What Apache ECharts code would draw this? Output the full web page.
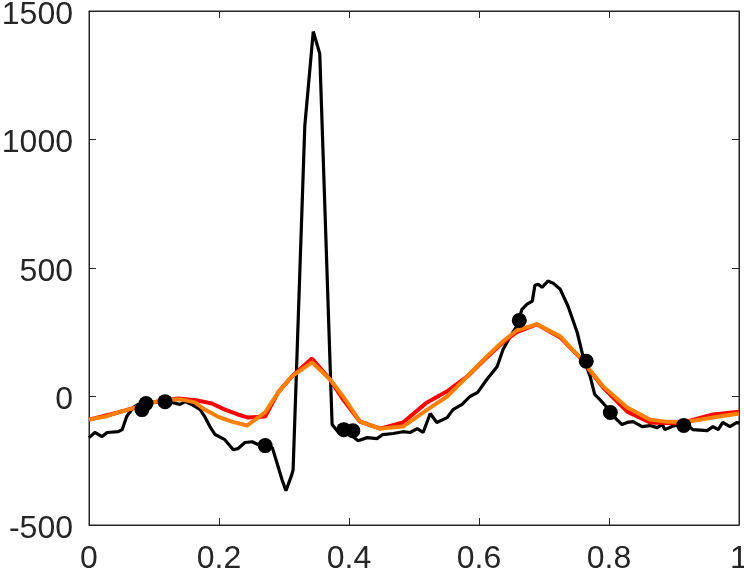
<!DOCTYPE html>
<html>
<head>
<meta charset="utf-8">
<script src="https://cdn.jsdelivr.net/npm/echarts@6/dist/echarts.min.js"></script>
<style>
html, body { margin: 0; padding: 0; background: #fff; }
#chart { width: 744px; height: 573px; }
</style>
</head>
<body>
<div id="chart"></div>
<script>
// raw signal
var ecgX = [0, 0.009, 0.020, 0.028, 0.045, 0.051, 0.058, 0.068, 0.075, 0.088, 0.097, 0.106, 0.117, 0.128, 0.140, 0.148, 0.158, 0.171, 0.178, 0.186, 0.194, 0.209, 0.222, 0.229, 0.240, 0.251, 0.260, 0.268, 0.282, 0.289, 0.297, 0.303, 0.312, 0.314, 0.332, 0.345, 0.355, 0.374, 0.383, 0.392, 0.406, 0.414, 0.428, 0.443, 0.452, 0.468, 0.483, 0.494, 0.505, 0.514, 0.525, 0.535, 0.551, 0.560, 0.574, 0.586, 0.598, 0.612, 0.628, 0.637, 0.648, 0.658, 0.666, 0.674, 0.682, 0.686, 0.691, 0.697, 0.706, 0.714, 0.725, 0.737, 0.751, 0.760, 0.771, 0.778, 0.786, 0.797, 0.805, 0.812, 0.820, 0.828, 0.837, 0.851, 0.863, 0.874, 0.882, 0.886, 0.897, 0.909, 0.920, 0.929, 0.951, 0.960, 0.968, 0.975, 0.986, 0.997, 1.0];
var ecgY = [-160, -140, -156, -140, -137, -129, -78, -43, -31, -23, -23, -23, -20, -23, -31, -20, -31, -51, -78, -117, -148, -168, -207, -203, -179, -176, -187, -187, -199, -257, -324, -367, -304, -285, 1053, 1420, 1334, -109, -137, -137, -156, -172, -160, -164, -148, -144, -137, -140, -125, -140, -66, -101, -82, -51, -31, 0, 16, 66, 117, 183, 234, 273, 339, 359, 371, 433, 437, 425, 449, 441, 417, 351, 250, 156, 78, 8, -12, -43, -70, -90, -109, -101, -98, -117, -113, -121, -109, -129, -117, -109, -109, -129, -133, -117, -129, -101, -117, -101, -105];

// fitted curves
var redX = [0, 0.045, 0.071, 0.097, 0.137, 0.168, 0.189, 0.209, 0.229, 0.245, 0.271, 0.291, 0.312, 0.343, 0.371, 0.391, 0.417, 0.448, 0.483, 0.520, 0.551, 0.582, 0.612, 0.637, 0.658, 0.689, 0.725, 0.755, 0.791, 0.828, 0.863, 0.909, 0.960, 1.0];
var redY = [-90, -62, -43, -23, -8, -16, -27, -51, -70, -82, -78, 16, 78, 148, 66, -12, -98, -125, -101, -23, 20, 78, 152, 211, 250, 281, 230, 152, 35, -59, -101, -105, -70, -59];

var orangeX = [0, 0.025, 0.045, 0.071, 0.097, 0.122, 0.143, 0.163, 0.178, 0.198, 0.220, 0.243, 0.271, 0.291, 0.312, 0.343, 0.371, 0.391, 0.417, 0.448, 0.483, 0.525, 0.551, 0.582, 0.612, 0.637, 0.658, 0.689, 0.725, 0.755, 0.791, 0.828, 0.863, 0.889, 0.920, 0.960, 1.0];
var orangeY = [-90, -78, -62, -43, -23, -12, -12, -23, -51, -78, -98, -113, -62, 16, 78, 133, 66, 0, -98, -125, -117, -43, 0, 78, 156, 215, 257, 281, 234, 152, 39, -43, -90, -98, -98, -82, -66];

// marked points
var dotX = [0.0815, 0.0877, 0.117, 0.271, 0.392, 0.406, 0.662, 0.765, 0.802, 0.915];
var dotY = [-51, -27, -20, -191, -129, -133, 296, 137, -62, -113];

var xTicks = [0, 0.2, 0.4, 0.6, 0.8, 1];
var yTicks = [-500, 0, 500, 1000, 1500];

var zip = function(xs, ys) {
	return xs.map(function(x, i) { return [x, ys[i]]; });
};

var axisColor = '#262626';
var labelFont = {
	color: axisColor,
	fontFamily: 'Liberation Sans, Arial, sans-serif',
	fontSize: 32
};

var tickStyle = { show: true, inside: true, length: 7, lineStyle: { color: axisColor } };
var lineStyle = { show: true, onZero: false, lineStyle: { color: axisColor } };

var chart = echarts.init(document.getElementById('chart'), null, { renderer: 'canvas' });
chart.setOption({
	animation: false,
	grid: {
		left: 89,
		right: 5,
		top: 11,
		bottom: 48,
		outerBoundsMode: 'none',
		containLabel: false,
		show: true,
		borderColor: axisColor,
		borderWidth: 1
	},
	xAxis: [{
		type: 'value',
		min: xTicks[0],
		max: xTicks[xTicks.length - 1],
		interval: 0.2,
		axisLine: lineStyle,
		axisTick: tickStyle,
		axisLabel: Object.assign({ margin: 18, showMaxLabel: true, showMinLabel: true, hideOverlap: false }, labelFont),
		splitLine: { show: false }
	}, {
		type: 'value',
		position: 'top',
		min: xTicks[0],
		max: xTicks[xTicks.length - 1],
		interval: 0.2,
		axisLine: lineStyle,
		axisTick: tickStyle,
		axisLabel: { show: false },
		splitLine: { show: false }
	}],
	yAxis: [{
		type: 'value',
		min: yTicks[0],
		max: yTicks[yTicks.length - 1],
		interval: 500,
		axisLine: lineStyle,
		axisTick: tickStyle,
		axisLabel: Object.assign({
			margin: 16,
			verticalAlign: 'top',
			lineHeight: 8,
			formatter: function(v) { return String(v); }
		}, labelFont),
		splitLine: { show: false }
	}, {
		type: 'value',
		position: 'right',
		min: yTicks[0],
		max: yTicks[yTicks.length - 1],
		interval: 500,
		axisLine: lineStyle,
		axisTick: tickStyle,
		axisLabel: { show: false },
		splitLine: { show: false }
	}],
	series: [{
		name: 'signal',
		type: 'line',
		data: zip(ecgX, ecgY),
		symbol: 'none',
		lineStyle: { color: '#000000', width: 3.2 },
		z: 2
	}, {
		name: 'red',
		type: 'line',
		data: zip(redX, redY),
		symbol: 'none',
		lineStyle: { color: '#ff0000', width: 4 },
		z: 3
	}, {
		name: 'orange',
		type: 'line',
		data: zip(orangeX, orangeY),
		symbol: 'none',
		lineStyle: { color: '#ff8000', width: 4 },
		z: 4
	}, {
		name: 'points',
		type: 'scatter',
		data: zip(dotX, dotY),
		symbol: 'circle',
		symbolSize: 15,
		itemStyle: { color: '#000000', opacity: 1 },
		z: 5
	}]
});
</script>
</body>
</html>
